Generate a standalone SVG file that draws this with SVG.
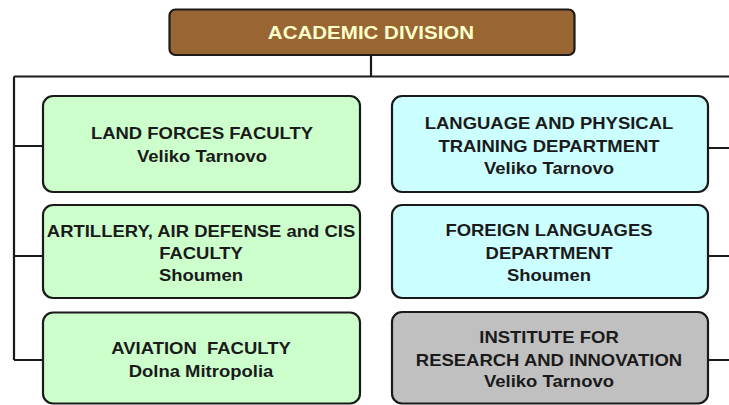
<svg xmlns="http://www.w3.org/2000/svg" width="729" height="405" viewBox="0 0 729 405">
<style>
.box{stroke:#1a1a1a;stroke-width:2.2}
.green{fill:#ccffcc}
.cyan{fill:#ccffff}
.gray{fill:#c0c0c0}
.brown{fill:#996633}
.t{font-family:"Liberation Sans",Arial,sans-serif;font-weight:bold;font-size:16.5px;fill:#1a1a1a;text-anchor:middle;white-space:pre}
.title{font-family:"Liberation Sans",Arial,sans-serif;font-weight:bold;font-size:19px;fill:#ffffcc;text-anchor:middle}
.ln{fill:none;stroke:#1a1a1a;stroke-width:2.2}
</style>
<rect width="729" height="405" fill="#ffffff"/>
<g id="connectors">
<path class="ln" d="M371,55 V76.5 M14,76.5 H729 M14,76.5 V360 M14,146 H43 M14,256 H43 M14,360 H43 M708,148 H729 M708,256 H729 M708,360 H729"/>
</g>
<g id="academic-division">
<rect class="box brown" x="169.5" y="9.5" width="405" height="45.5" rx="6"/>
<text class="title" transform="translate(371,0) scale(1.08,1)" x="0" y="39">ACADEMIC DIVISION</text>
</g>
<g id="land-forces">
<rect class="box green" x="43" y="96" width="317" height="96" rx="10"/>
<g transform="translate(202,0) scale(1.12,1)">
<text class="t" x="0" y="139.3">LAND FORCES FACULTY</text>
<text class="t" x="0" y="162.3">Veliko Tarnovo</text>
</g>
</g>
<g id="artillery">
<rect class="box green" x="43" y="205" width="317" height="93" rx="10"/>
<g transform="translate(201,0) scale(1.12,1)">
<text class="t" x="0" y="236.7">ARTILLERY, AIR DEFENSE and CIS</text>
<text class="t" x="0" y="259.3">FACULTY</text>
<text class="t" x="0" y="281">Shoumen</text>
</g>
</g>
<g id="aviation">
<rect class="box green" x="43" y="312.5" width="317" height="91" rx="10"/>
<g transform="translate(201,0) scale(1.12,1)">
<text class="t" x="0" y="354.3">AVIATION  FACULTY</text>
<text class="t" x="0" y="377.3">Dolna Mitropolia</text>
</g>
</g>
<g id="language-physical">
<rect class="box cyan" x="392" y="96" width="316" height="96" rx="10"/>
<g transform="translate(549,0) scale(1.12,1)">
<text class="t" x="0" y="129.3">LANGUAGE AND PHYSICAL</text>
<text class="t" x="0" y="151.7">TRAINING DEPARTMENT</text>
<text class="t" x="0" y="174">Veliko Tarnovo</text>
</g>
</g>
<g id="foreign-languages">
<rect class="box cyan" x="392" y="205" width="316" height="93" rx="10"/>
<g transform="translate(549,0) scale(1.12,1)">
<text class="t" x="0" y="236.5">FOREIGN LANGUAGES</text>
<text class="t" x="0" y="259">DEPARTMENT</text>
<text class="t" x="0" y="281">Shoumen</text>
</g>
</g>
<g id="institute">
<rect class="box gray" x="392" y="312" width="316" height="91.5" rx="10"/>
<g transform="translate(549,0) scale(1.12,1)">
<text class="t" x="0" y="343.3">INSTITUTE FOR</text>
<text class="t" x="0" y="366">RESEARCH AND INNOVATION</text>
<text class="t" x="0" y="386.7">Veliko Tarnovo</text>
</g>
</g>
</svg>
